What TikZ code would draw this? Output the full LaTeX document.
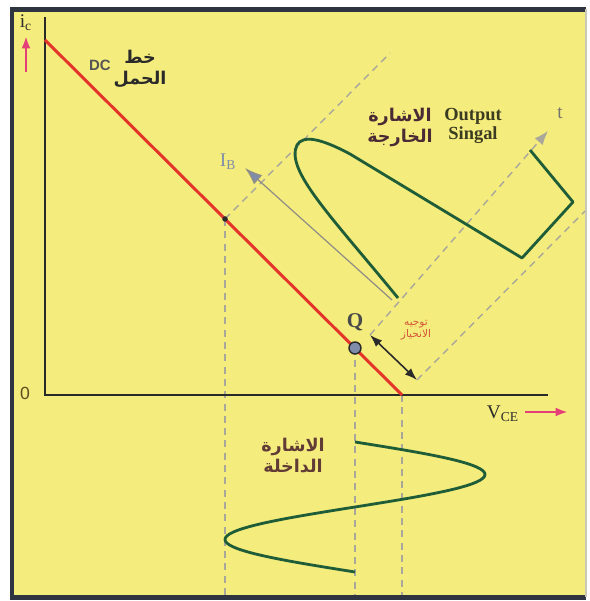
\documentclass[tikz,border=0pt]{standalone}
\usepackage{fontspec}
\setmainfont{Liberation Serif}
\newfontfamily\sansfont{Liberation Sans}
\newfontfamily\arabicfont[Script=Arabic]{DejaVu Sans}
\TeXXeTstate=1
\usepackage{tikz}
\usetikzlibrary{arrows.meta}
\definecolor{LLYellow}{HTML}{F4EC7C}
\definecolor{LLFrame}{HTML}{2E3440}
\definecolor{LLEdge}{HTML}{C8C8B8}
\definecolor{LLInk}{HTML}{2A2A2A}
\definecolor{LLRed}{HTML}{E4352A}
\definecolor{LLGreen}{HTML}{1F5C38}
\definecolor{LLGrey}{HTML}{A9A79C}
\definecolor{LLPink}{HTML}{E43F78}
\definecolor{LLSlate}{HTML}{7F8CAA}
\definecolor{LLMaroon}{HTML}{4A2B35}
\definecolor{LLBias}{HTML}{D6553A}
\tikzset{
  guide/.style={LLGrey, line width=0.8pt, dash pattern=on 4pt off 3pt},
  signal/.style={LLGreen, line width=1.6pt, line join=round},
  arlabel/.style={align=center, font=\arabicfont\bfseries\fontsize{10}{12}\selectfont, text=LLMaroon, inner sep=0pt},
  enlabel/.style={font=\fontsize{11}{12}\selectfont, inner sep=0pt}
}

\begin{document}
\begin{tikzpicture}[x=1cm,y=1cm]
\path[use as bounding box] (0,0) rectangle (11.78,12.02);
\fill[white] (0,0) rectangle (11.78,12.02);
\fill[LLYellow] (0.24,0.07) rectangle (11.72,11.83);
\draw[LLFrame, line width=2.3pt] (11.72,11.83) -- (0.24,11.83) -- (0.24,0.07) -- (11.72,0.07);
\draw[LLEdge, line width=0.6pt] (11.72,0.07) -- (11.72,11.83);

% axes and load line points
\coordinate (O) at (0.90,4.12);
\coordinate (ytop) at (0.90,11.68);
\coordinate (xend) at (10.96,4.12);
\coordinate (ll0) at (0.90,11.22);
\coordinate (cut) at (8.04,4.12);
\coordinate (sat) at (4.50,7.64);
\coordinate (Q) at (7.10,5.06);
\coordinate (d1) at (7.40,5.32);
\coordinate (d2) at (8.34,4.42);

% guide lines
\draw[guide] (sat) -- (sat |- 0,0.12);
\draw[guide] (Q) -- (Q |- 0,0.12);
\draw[guide] (cut) -- (cut |- 0,0.12);
\draw[guide] (sat) -- (7.80,10.96);
\draw[guide] (d2) -- (11.70,7.80);
\draw[guide, -{Latex[length=8pt,width=6pt]}] (d1) -- (10.96,9.40) coordinate (tend);

% base current axis
\coordinate (ib0) at (7.84,6.02);
\draw[LLGrey!85!black, line width=0.7pt, -{Latex[length=10pt,width=7pt,fill=LLSlate]}] (ib0) -- (4.90,8.66) coordinate (ib1);

% output signal
\draw[signal] (7.96,6.06) .. controls (6.60,7.72) and (5.70,8.62) .. (5.94,9.12)
  .. controls (6.06,9.32) and (6.40,9.26) .. (7.00,8.94)
  -- (10.44,6.86) -- (11.46,7.98) -- (10.60,9.02);

% input signal
\draw[signal] plot[domain=0:360, samples=73, smooth] ({7.10+2.60*sin(\x)},{3.18-2.60*\x/360});

% axes
\draw[LLInk, line width=1.3pt] (ytop) -- (O) -- (xend);

% load line and operating point
\draw[LLRed, line width=1.7pt] (ll0) -- (cut);
\fill[LLInk] (sat) circle (0.055);
\draw[LLInk, line width=0.8pt, fill=LLSlate] (Q) circle (0.12);
\draw[LLInk, line width=0.9pt, {Latex[length=7pt,width=5pt]}-{Latex[length=7pt,width=5pt]}] (d1) -- (d2);

% labels
\node[enlabel, text=LLInk] (ic) at (0.52,11.56) {i\textsubscript{c}};
\coordinate (icfoot) at (0.52,10.58);
\draw[LLPink, line width=1.3pt, -{Latex[length=7pt,width=5pt]}] (icfoot) -- (icfoot |- 0,11.30);
\node[enlabel, text=LLInk] (vce) at (10.06,3.74) {V\textsubscript{CE}};
\draw[LLPink, line width=1.3pt, -{Latex[length=7pt,width=5pt]}] (vce.east |- 0,3.78) ++(0.12,0) -- (11.36,3.78);
\node[font=\sansfont\fontsize{10}{12}\selectfont, text=LLMaroon!60!olive, inner sep=0pt] (zero) at (0.50,4.16) {0};
\node[font=\sansfont\bfseries\fontsize{8.5}{10}\selectfont, text=LLInk!80, inner sep=0pt] (dc) at (2.00,10.72) {DC};
\node[arlabel, text=LLInk] (load) at (2.80,10.65) {\beginR خط\endR\\\beginR الحمل\endR};
\node[font=\bfseries\fontsize{12}{14}\selectfont, text=LLInk!85, inner sep=0pt] (qlabel) at (7.10,5.58) {Q};
\node[enlabel, text=LLSlate] (ib) at (4.56,8.78) {I\textsubscript{B}};
\node[enlabel, text=LLGrey!70!black] (tlabel) at (11.20,9.76) {t};
\node[arlabel] (outar) at (8.00,9.47) {\beginR الاشارة\endR\\\beginR الخارجة\endR};
\node[align=center, font=\bfseries\fontsize{10.5}{9}\selectfont, text=LLInk!80!olive, inner sep=0pt] (outen) at (9.46,9.50) {Output\\Singal};
\node[arlabel, text=LLMaroon!80!brown] (inar) at (5.86,2.90) {\beginR الاشارة\endR\\\beginR الداخلة\endR};
\node[align=center, font=\arabicfont\fontsize{6}{7}\selectfont, text=LLBias, inner sep=0pt] (bias) at (8.32,5.42) {\beginR توجيه\endR\\\beginR الانحياز\endR};
\end{tikzpicture}
\end{document}
